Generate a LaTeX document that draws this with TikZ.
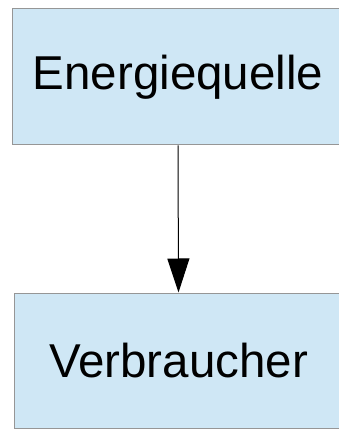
\documentclass[tikz,border=0pt]{standalone}
\usepackage{fontspec}
\setmainfont{Liberation Sans}
\usetikzlibrary{arrows.meta}
\definecolor{boxfill}{RGB}{207,231,245}
\definecolor{boxline}{RGB}{150,150,150}
\tikzset{
  block/.style={draw=boxline, fill=boxfill, line width=1pt, inner sep=0pt,
    font=\fontsize{47.5}{52}\selectfont},
  link/.style={line width=1pt, -{Triangle[width=22pt,length=34pt]}}
}
\begin{document}
\begin{tikzpicture}[x=1pt,y=-1pt]
  \useasboundingbox (0,0) rectangle (338,430);
  \node[block, minimum width=332pt, minimum height=136pt] (src) at (178,77) {Energiequelle};
  \node[block, minimum width=329pt, minimum height=135pt] (load) at (178.5,360.5) {Verbraucher};
  \draw[link] (src.south) -- (load.north);
\end{tikzpicture}
\end{document}
